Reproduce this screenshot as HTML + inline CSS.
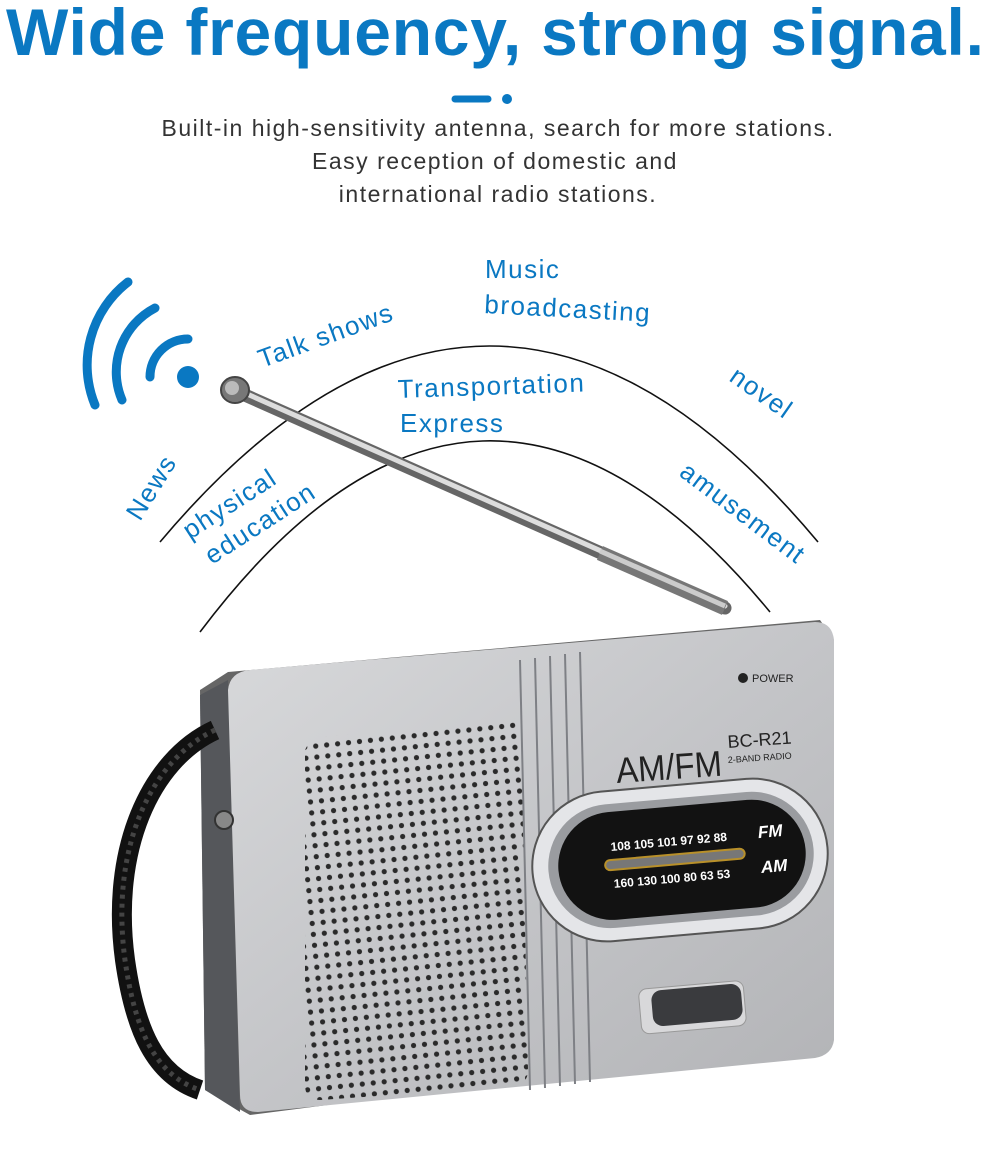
<!DOCTYPE html>
<html><head><style>
body{margin:0;background:#fff;width:999px;height:1164px;overflow:hidden;font-family:"Liberation Sans",sans-serif}
</style></head><body>
<svg width="999" height="1164" viewBox="0 0 999 1164" xmlns="http://www.w3.org/2000/svg">
<defs>
<pattern id="dots" width="11" height="11" patternUnits="userSpaceOnUse" patternTransform="rotate(-6)">
<circle cx="5" cy="5" r="2.6" fill="#2a2a2a"/></pattern>
<linearGradient id="body" x1="0" y1="0" x2="1" y2="1">
<stop offset="0" stop-color="#d8d9db"/><stop offset="0.5" stop-color="#c4c5c8"/><stop offset="1" stop-color="#b2b3b6"/></linearGradient>
</defs>
<text x="6" y="55" font-size="66" font-weight="bold" fill="#0a78c2" textLength="978" lengthAdjust="spacing">Wide frequency, strong signal.</text>
<line x1="455" y1="99" x2="488" y2="99" stroke="#0a78c2" stroke-width="7" stroke-linecap="round"/>
<circle cx="507" cy="99" r="5" fill="#0a78c2"/>
<g font-size="23" fill="#333" text-anchor="middle" letter-spacing="1.5">
<text x="498" y="136">Built-in high-sensitivity antenna, search for more stations.</text>
<text x="495" y="169">Easy reception of domestic and</text>
<text x="498" y="202">international radio stations.</text>
</g>
<path d="M160 542 Q490 150 818 542" fill="none" stroke="#111" stroke-width="1.6"/>
<path d="M200 632 Q480 260 770 612" fill="none" stroke="#111" stroke-width="1.6"/>
<g fill="none" stroke="#0a78c2" stroke-width="9" stroke-linecap="round">
<path d="M188 339 A38 38 0 0 0 150 377"/>
<path d="M155 308 A72 72 0 0 0 122 400"/>
<path d="M128 282 A105 105 0 0 0 95 405"/>
</g>
<circle cx="188" cy="377" r="11" fill="#0a78c2"/>
<g font-size="26" fill="#0a78c2" letter-spacing="1.5">
<text transform="translate(140 522) rotate(-58)">News</text>
<text transform="translate(190 540) rotate(-33)">physical</text>
<text transform="translate(212 565) rotate(-33)">education</text>
<text transform="translate(262 368) rotate(-20)">Talk shows</text>
<text x="485" y="278">Music</text>
<text transform="translate(484 313) rotate(3)">broadcasting</text>
<text transform="translate(398 398) rotate(-2)">Transportation</text>
<text x="400" y="432">Express</text>
<text transform="translate(728 380) rotate(35)">novel</text>
<text transform="translate(678 475) rotate(37)">amusement</text>
</g>
<line x1="238" y1="392" x2="725" y2="608" stroke="#666" stroke-width="13" stroke-linecap="round"/>
<line x1="238" y1="390" x2="725" y2="606" stroke="#ddd" stroke-width="5" stroke-linecap="round"/>
<line x1="600" y1="553" x2="725" y2="608" stroke="#777" stroke-width="15"/>
<line x1="600" y1="551" x2="725" y2="606" stroke="#ccc" stroke-width="5"/>
<ellipse cx="235" cy="390" rx="14" ry="13" fill="#777" stroke="#444" stroke-width="2"/>
<ellipse cx="232" cy="388" rx="7" ry="7" fill="#bbb"/>
<path d="M200 690 L228 672 L820 620 L834 640 L834 1040 L250 1115 L205 1090 Z" fill="#666"/>
<path d="M200 695 L228 680 L240 1112 L205 1090 Z" fill="#55575b"/>
<path d="M228 690 Q230 672 250 670 L815 622 Q832 622 834 640 L834 1040 Q832 1055 815 1058 L258 1112 Q240 1112 240 1095 Z" fill="url(#body)"/>
<g stroke="#7e8085" stroke-width="2" fill="none">
<path d="M520 660 L530 1090"/><path d="M535 658 L545 1088"/><path d="M550 656 L560 1086"/><path d="M565 654 L575 1084"/><path d="M580 652 L590 1082"/>
</g>
<path d="M305 750 Q310 738 325 737 L505 720 Q520 720 521 735 L528 1070 Q528 1085 512 1087 L320 1100 Q305 1100 305 1085 Z" fill="url(#dots)"/>
<path d="M215 730 C150 760 110 850 125 960 C135 1030 155 1075 200 1090" fill="none" stroke="#111" stroke-width="20"/>
<path d="M215 730 C150 760 110 850 125 960 C135 1030 155 1075 200 1090" fill="none" stroke="#444" stroke-width="5" stroke-dasharray="4 5"/>
<circle cx="224" cy="820" r="9" fill="#888" stroke="#333" stroke-width="2"/>
<circle cx="743" cy="678" r="5" fill="#222"/>
<text x="752" y="682" font-size="11" fill="#222">POWER</text>
<text transform="translate(617 783) rotate(-4)" font-size="36" fill="#222" textLength="106" lengthAdjust="spacingAndGlyphs">AM/FM</text>
<text transform="translate(728 748) rotate(-4)" font-size="18" fill="#222">BC-R21</text>
<text transform="translate(728 763) rotate(-4)" font-size="9" fill="#222">2-BAND RADIO</text>
<g transform="rotate(-5 680 860)">
<rect x="532" y="785" width="296" height="150" rx="75" fill="#e4e5e8" stroke="#555" stroke-width="2"/>
<rect x="548" y="798" width="266" height="124" rx="62" fill="#9a9ca0"/>
<rect x="558" y="806" width="248" height="108" rx="54" fill="#121212"/>
<g font-size="12" fill="#fff" font-weight="bold">
<text x="612" y="845">108 105 101 97 92 88</text>
<text x="612" y="882">160 130 100 80 63 53</text>
<text x="760" y="845" font-size="17" font-style="italic">FM</text>
<text x="760" y="880" font-size="17" font-style="italic">AM</text>
</g>
<rect x="605" y="854" width="140" height="10" rx="5" fill="#777" stroke="#b8902a" stroke-width="2"/>
</g>
<rect x="640" y="985" width="105" height="45" rx="8" fill="#d8d8da" stroke="#999" transform="rotate(-5 690 1008)"/>
<rect x="652" y="987" width="90" height="36" rx="10" fill="#3a3b3e" transform="rotate(-5 697 1005)"/>
</svg>
</body></html>
